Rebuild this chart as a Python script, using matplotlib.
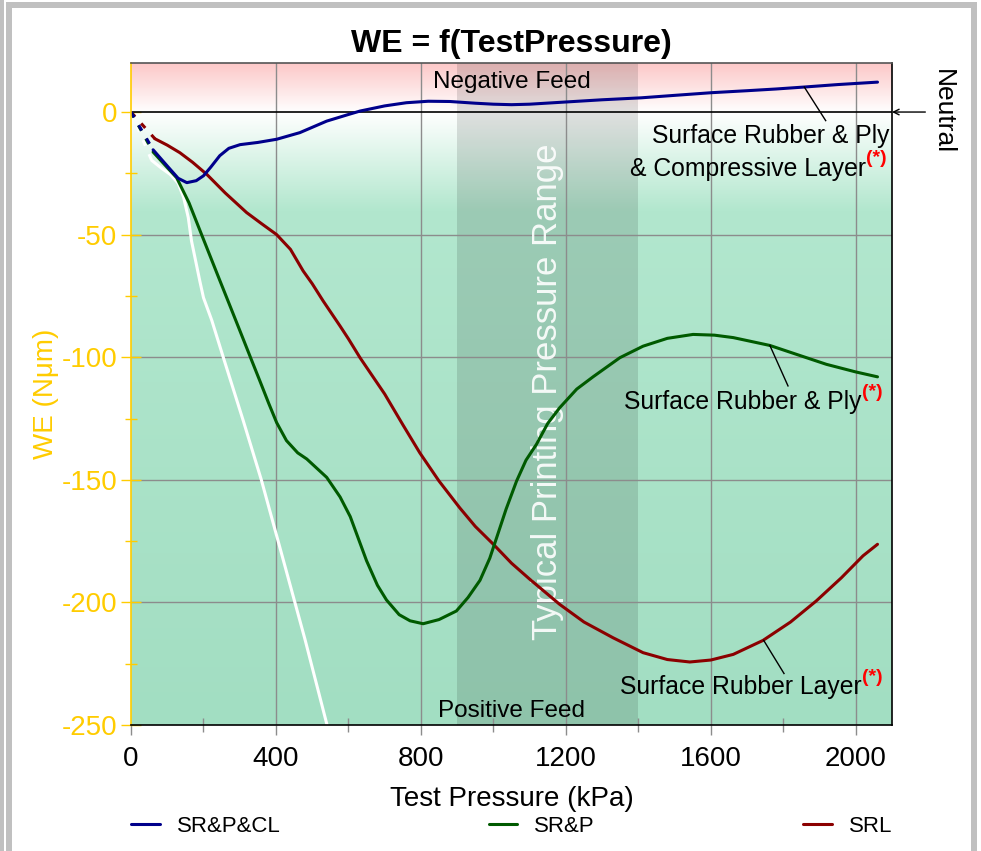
import numpy as np
import matplotlib
matplotlib.use("Agg")
import matplotlib.pyplot as plt
from matplotlib.patches import Rectangle
from matplotlib.ticker import MultipleLocator

plt.rcParams['font.family'] = ['Liberation Sans', 'DejaVu Sans']

# ---------------- data ----------------
srpcl_x = [61, 100, 130, 154, 180, 200, 220, 245, 270, 301, 350, 402, 466, 540, 600, 632,
           700, 760, 820, 880, 950, 1000, 1050, 1100, 1200, 1300, 1408, 1500, 1603, 1700,
           1780, 1858, 1950, 2060]
srpcl_y = [-15.4, -22, -27, -28.8, -28, -26, -22.5, -17.8, -14.8, -13.3, -12.4, -11.1, -8.4,
           -3.7, -1, 0.4, 2.5, 3.8, 4.4, 4.3, 3.6, 3.2, 3.0, 3.2, 4.1, 5.0, 5.8, 6.8, 7.9,
           8.7, 9.4, 10.2, 11.2, 12.2]

srp_x = [61, 90, 126, 160, 190, 240, 273, 300, 333, 356, 380, 402, 429, 460, 485, 540, 577,
         605, 630, 650, 680, 705, 740, 770, 806, 850, 898, 930, 963, 990, 1009, 1035, 1064,
         1090, 1119, 1150, 1183, 1230, 1275, 1349, 1413, 1480, 1551, 1610, 1662, 1763, 1850,
         1919, 2000, 2060]
srp_y = [-16.3, -21, -26.8, -37, -48.2, -66.8, -79, -89, -101.3, -109.8, -118.8, -126.7, -134,
         -139, -141.5, -149, -157, -165, -175, -183, -193, -199, -205, -207.5, -208.7, -207,
         -203.5, -198, -191, -182, -173.6, -162, -150.5, -142, -135.5, -127, -120.6, -113,
         -108, -100.2, -95.5, -92.3, -90.7, -91, -92, -95.2, -99.5, -102.9, -106, -108]

srl_x = [66, 100, 135, 170, 209, 260, 319, 360, 402, 440, 475, 500, 530, 577, 600, 632, 700,
         750, 797, 850, 907, 950, 1000, 1050, 1100, 1183, 1250, 1330, 1413, 1480, 1542, 1600,
         1662, 1744, 1820, 1891, 1960, 2020, 2060]
srl_y = [-10.9, -13.5, -16.6, -20.5, -25.4, -33, -41, -45.5, -50, -56, -64.8, -70, -77,
         -87.3, -92.5, -100.2, -115, -127.5, -139, -150.5, -161.4, -169, -176.3, -184,
         -190.5, -200.8, -208, -214.4, -220.5, -223.3, -224.3, -223.5, -221.2, -215.5,
         -208, -199.4, -190, -181, -176.3]

ref_x = [57, 85, 108, 130, 145, 158, 167, 190, 200, 223, 255, 310, 360, 406, 480, 541, 570]
ref_y = [-19.7, -23, -25.4, -29, -34.7, -43, -52.6, -69, -75.7, -85, -100.2, -126, -150.2,
         -175, -215, -250, -267]

series_names = ["SR&P&CL", "SR&P", "SRL"]
x_ticks = [0, 400, 800, 1200, 1600, 2000]
y_ticks = [0, -50, -100, -150, -200, -250]

# ---------------- styling ----------------
W, H = 981, 851
GOLD = '#FFCC00'
BLUE = '#00008b'
GREEN = '#005a00'
RED = '#8b0000'
FS_ANN = 17.8

fig = plt.figure(figsize=(W / 100, H / 100), dpi=100)
fig.patch.set_facecolor('white')

def px_rect(x0, y0, x1, y1, color='#c0c0c0'):
    fig.add_artist(Rectangle((x0 / W, 1 - y1 / H), (x1 - x0) / W, (y1 - y0) / H,
                             transform=fig.transFigure, facecolor=color,
                             edgecolor='none', zorder=-10))

# screenshot frame
px_rect(0, 0, 4, H)
px_rect(6, 2, 12, H)
px_rect(6, 2, 977, 8)
px_rect(971, 2, 977, H)

ax = fig.add_axes([131 / W, 1 - 725 / H, (892 - 131) / W, (725 - 63) / H])
ax.set_xlim(0, 2100)
ax.set_ylim(-250, 20)

# background gradient
ys = np.linspace(20, -250, 600)
xp = [-250, -40, 0, 20]
rr = np.interp(ys, xp, [162, 178, 255, 252])
gg = np.interp(ys, xp, [222, 231, 255, 200])
bb = np.interp(ys, xp, [194, 206, 255, 200])
grad = np.stack([rr, gg, bb], axis=-1)[:, None, :] / 255.0
ax.imshow(grad, extent=(0, 2100, -250, 20), aspect='auto', zorder=0, interpolation='bilinear')

# printing range band
ax.axvspan(900, 1400, color='black', alpha=0.12, lw=0, zorder=1)

# grid
for xv in x_ticks[1:]:
    ax.axvline(xv, color='#8c8c8c', lw=1, zorder=1.5)
for yv in y_ticks[1:-1]:
    ax.axhline(yv, color='#8c8c8c', lw=1, zorder=1.5)
ax.axhline(0, color='black', lw=1.2, zorder=2)

ax.text(1148, -114, "Typical Printing Pressure Range", rotation=90, ha='center', va='center',
        fontsize=25, color='white', alpha=0.9, zorder=2.5)

ax.text(1050, 9.9, "Negative Feed", ha='center', va='baseline', fontsize=17.5, color='black', zorder=3)
ax.text(1050, -246.7, "Positive Feed", ha='center', va='baseline', fontsize=17.5, color='black', zorder=3)

# curves
dash = (0, (2.0, 3.0))
kw = dict(lw=2.2, solid_joinstyle='round', solid_capstyle='round')
ax.plot(ref_x, ref_y, color='white', zorder=3, label='_nolegend_', **kw)
ax.plot([0, ref_x[0]], [0, ref_y[0]], color='white', lw=2.2, ls=dash, zorder=3)
ax.plot(srl_x, srl_y, color=RED, zorder=3.2, label=series_names[2], **kw)
ax.plot([0, srl_x[0]], [0, srl_y[0]], color=RED, lw=2.2, ls=dash, zorder=3.2)
ax.plot(srp_x, srp_y, color=GREEN, zorder=3.3, label=series_names[1], **kw)
ax.plot([0, srp_x[0]], [0, srp_y[0]], color=GREEN, lw=2.2, ls=dash, zorder=3.3)
ax.plot(srpcl_x, srpcl_y, color=BLUE, zorder=3.4, label=series_names[0], **kw)
ax.plot([0, srpcl_x[0]], [0, srpcl_y[0]], color=BLUE, lw=2.2, ls=dash, zorder=3.4)

# annotations
def label(txt, x_right, baseline, sup_baseline, tip, tail):
    ax.text(x_right, baseline, txt, ha='right', va='baseline', fontsize=FS_ANN, color='black', zorder=4)
    ax.text(x_right + 1, sup_baseline, "(*)", ha='left', va='baseline', fontsize=14,
            fontweight='bold', color='red', zorder=4)
    ax.plot([tip[0], tail[0]], [tip[1], tail[1]], color='black', lw=1, zorder=4)

ax.text(2094, -12.5, "Surface Rubber & Ply", ha='right', va='baseline', fontsize=FS_ANN, zorder=4)
label("& Compressive Layer", 2028, -26.1, -20.8, (1858, 10.2), (1917, -3.5))
label("Surface Rubber & Ply", 2017, -121.3, -116.3, (1763, -95.2), (1813, -111.7))
label("Surface Rubber Layer", 2016, -237.5, -232.5, (1746, -215.5), (1802, -229))

# neutral arrow
ax.annotate("", xy=(1.0, 0), xycoords=('axes fraction', 'data'),
            xytext=(24, 0), textcoords='offset points',
            arrowprops=dict(arrowstyle='->', color='black', lw=1, shrinkA=0, shrinkB=0),
            annotation_clip=False)
fig.text(943 / W, 1 - 112 / H, "Neutral", rotation=-90, ha='center', va='center', fontsize=19)

# axes styling
ax.set_xticks(x_ticks)
ax.set_yticks(y_ticks)
ax.xaxis.set_minor_locator(MultipleLocator(200))
ax.yaxis.set_minor_locator(MultipleLocator(25))
ax.tick_params(axis='x', which='major', direction='out', length=7, width=1, color='#8c8c8c',
               labelsize=20, pad=8, labelcolor='black')
ax.tick_params(axis='x', which='minor', direction='inout', length=10, width=1, color='#8c8c8c')
ax.tick_params(axis='y', which='major', direction='inout', length=14, width=1, color=GOLD,
               labelsize=20, pad=3, labelcolor=GOLD)
ax.tick_params(axis='y', which='minor', direction='inout', length=9, width=1, color=GOLD)
ax.set_yticklabels([str(v) if v >= 0 else '-' + str(-v) for v in y_ticks])

ax.spines['left'].set_color(GOLD)
ax.spines['bottom'].set_color('black')
ax.spines['right'].set_color('black')
ax.spines['top'].set_color('#555555')
for s in ax.spines.values():
    s.set_linewidth(1.2)
    s.set_zorder(5)

ax.set_title("WE = f(TestPressure)", fontsize=23, fontweight='bold', pad=8)
ax.set_xlabel("Test Pressure (kPa)", fontsize=20, labelpad=10)
ax.set_ylabel("WE (N\u03bcm)", fontsize=20, color=GOLD, labelpad=2)

handles, labels = ax.get_legend_handles_labels()
order = [labels.index(n) for n in series_names]
leg = ax.legend([handles[i] for i in order], [labels[i] for i in order],
                loc='center', bbox_to_anchor=(0, -0.1526, 1, 0), mode='expand', ncol=3,
                frameon=False, fontsize=16, handlelength=1.3, handletextpad=0.75,
                borderpad=0, borderaxespad=0)

fig.savefig("out.png", dpi=100)
